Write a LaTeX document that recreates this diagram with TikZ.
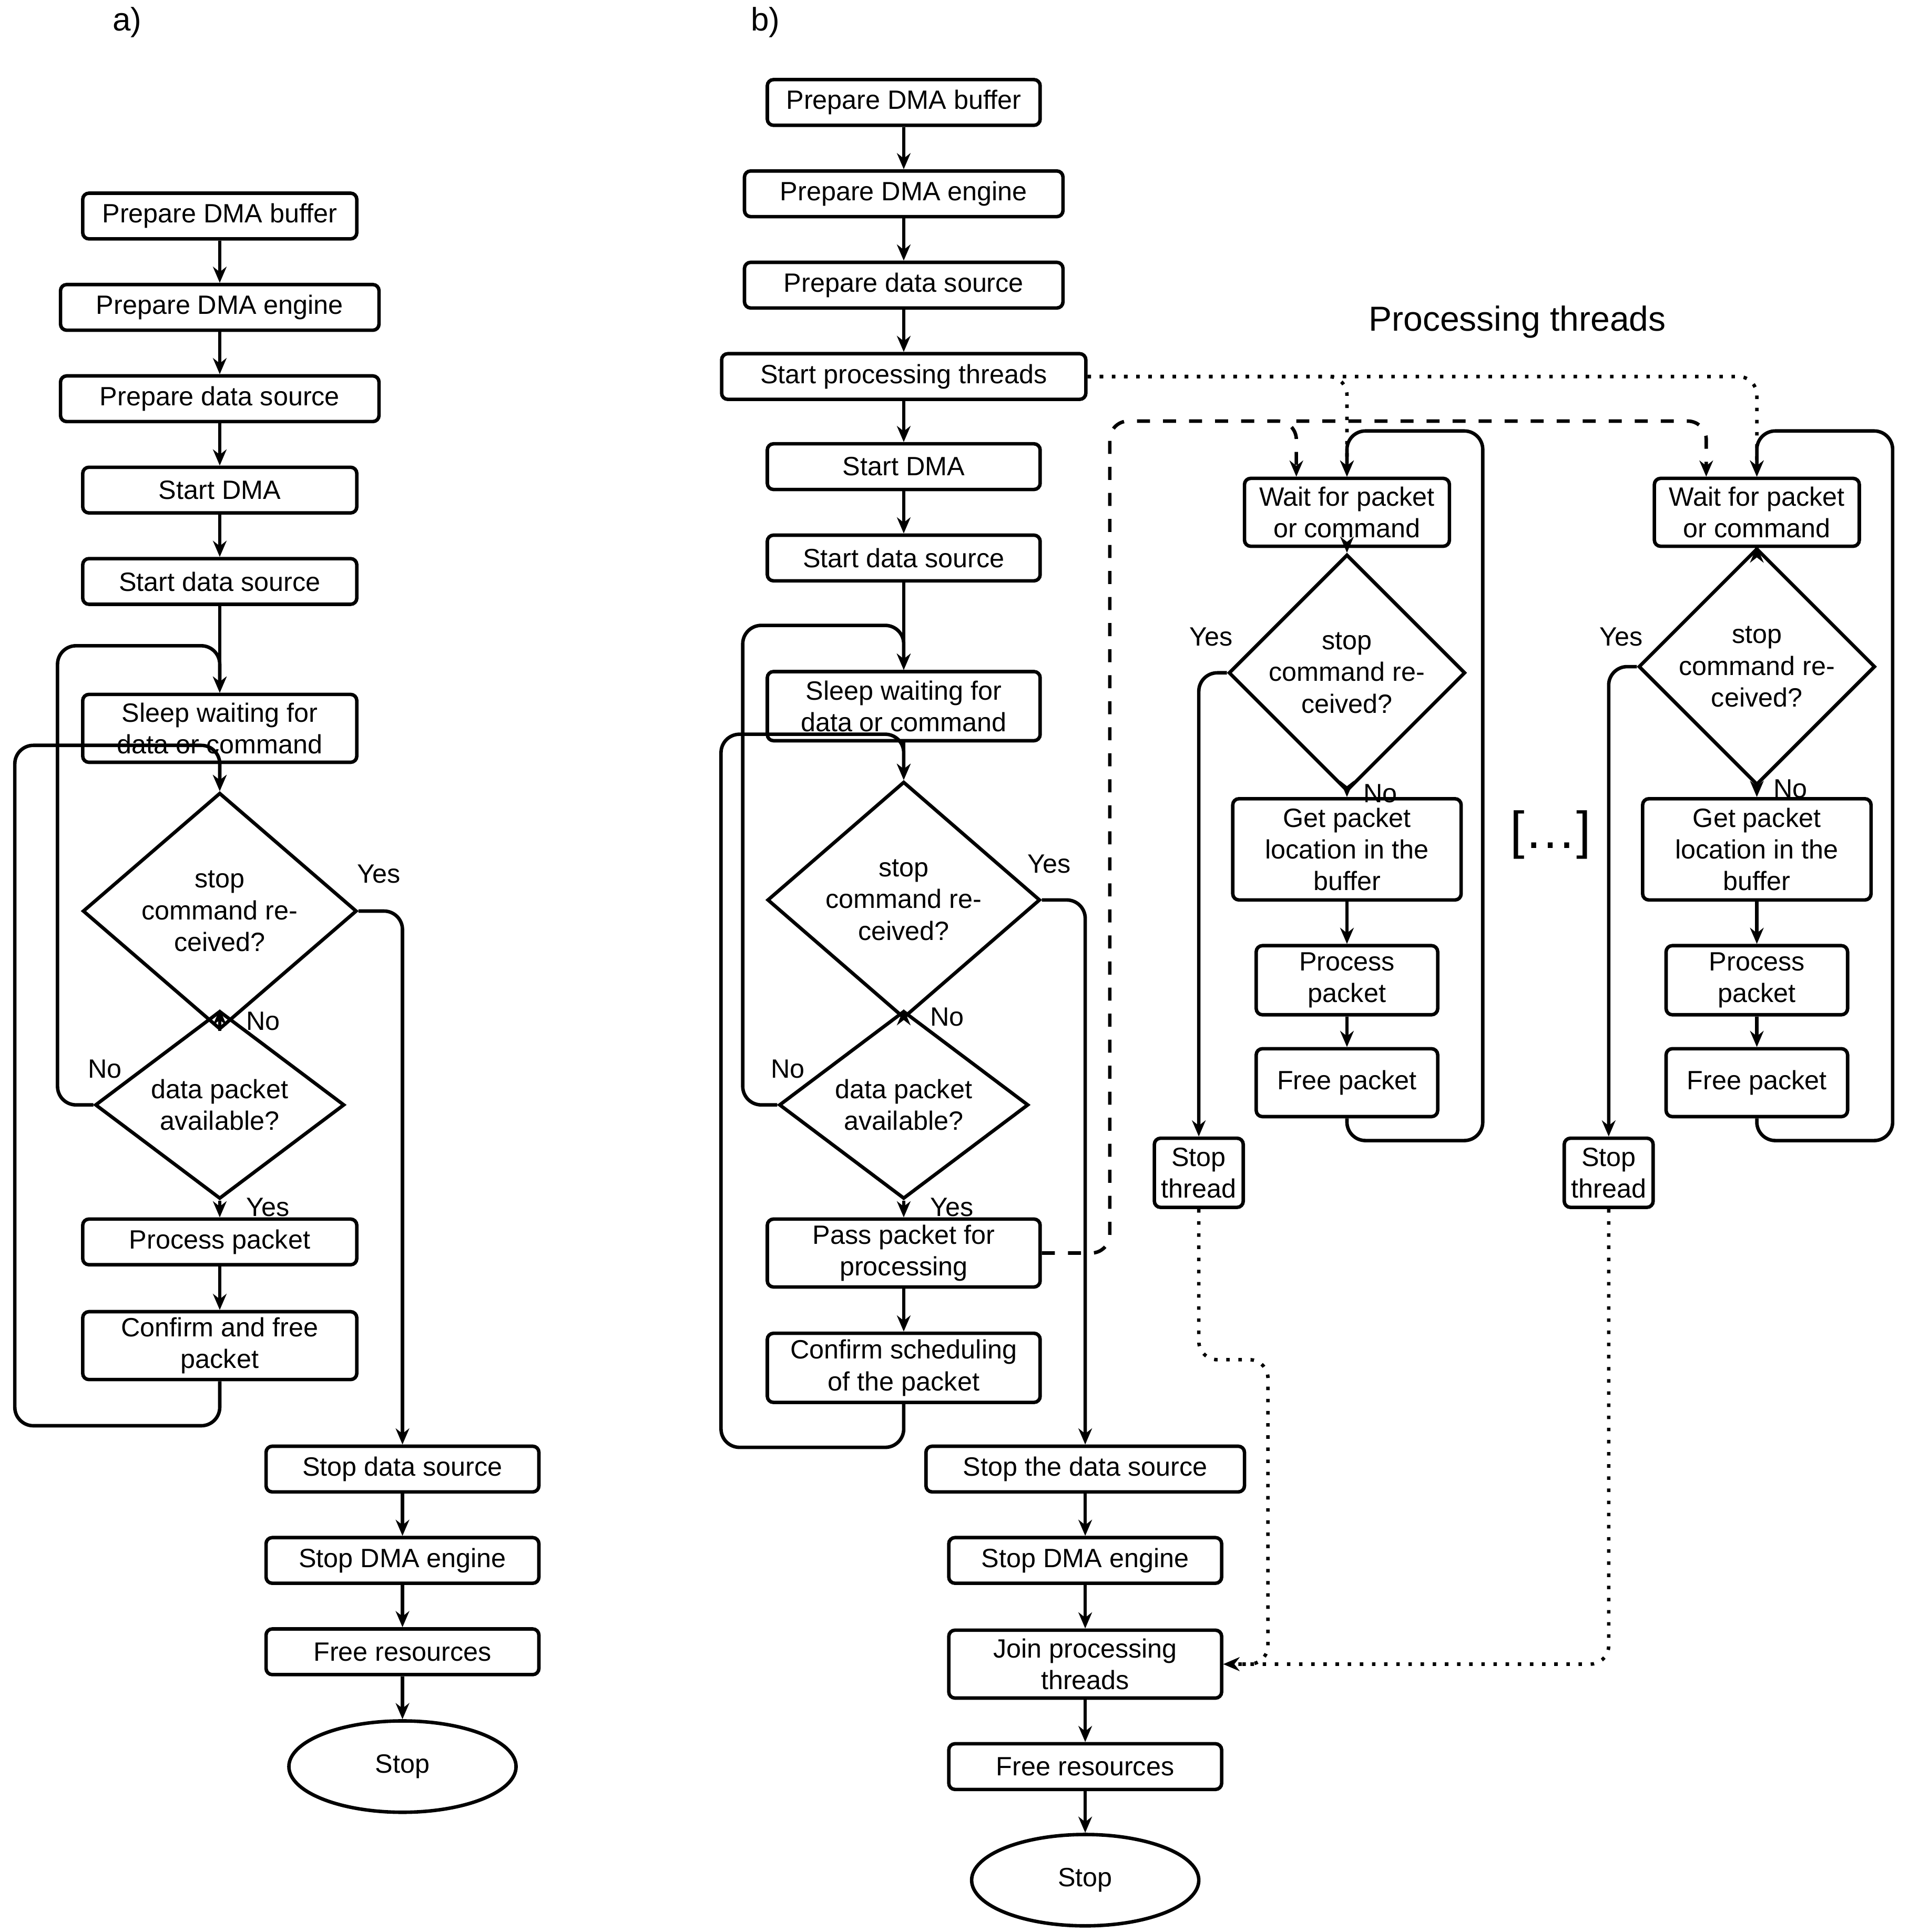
\documentclass[tikz,border=0pt]{standalone}
\usepackage{fontspec}
\setmainfont{Liberation Sans}
\usetikzlibrary{shapes.geometric,arrows.meta}
\tikzset{
  box/.style={shape=rectangle,draw=black,rounded corners=0.5mm,line width=0.8pt,align=center,inner sep=0pt,minimum height=0.37cm},
  dec/.style={shape=diamond,draw=black,line width=0.8pt,align=center,inner sep=0pt,aspect=1},
  stopnode/.style={shape=ellipse,draw=black,line width=0.8pt,minimum width=1.84cm,minimum height=0.74cm},
  line/.style={line width=0.8pt,rounded corners=1.5mm,-{Stealth[length=1.3mm,width=1.1mm]}},
  lbl/.style={inner sep=0pt}
}
\begin{document}
\begin{tikzpicture}[font=\fontsize{6.1}{7.3}\selectfont]
\useasboundingbox (0,0) rectangle (15.46,-15.65);

		\node[lbl,font=\fontsize{7.5}{9}\selectfont] (la) at (1.03,-0.18) {a)};
		\node[lbl,font=\fontsize{7.5}{9}\selectfont] (lb) at (6.20,-0.18) {b)};

		% a) single thread
		\node[box,minimum width=2.22cm] (A1) at (1.78,-1.75) {Prepare DMA buffer};
		\node[box,minimum width=2.58cm] (A2) at (1.78,-2.49) {Prepare DMA engine};
		\node[box,minimum width=2.58cm] (A3) at (1.78,-3.23) {Prepare data source};
		\node[box,minimum width=2.22cm] (A4) at (1.78,-3.97) {Start DMA};
		\node[box,minimum width=2.22cm] (A5) at (1.78,-4.71) {Start data source};
		\node[box,minimum width=2.22cm,minimum height=0.55cm] (A6) at (1.78,-5.90) {Sleep waiting for\\data or command};
		\node[dec,minimum width=2.22cm,minimum height=1.28cm] (A7) at (1.78,-7.38) {stop\\command re-\\ceived?};
		\node[dec,minimum width=2.02cm,minimum height=1.10cm] (A8) at (1.78,-8.95) {data packet\\available?};
		\node[box,minimum width=2.22cm] (A9) at (1.78,-10.06) {Process packet};
		\node[box,minimum width=2.22cm,minimum height=0.55cm] (A10) at (1.78,-10.90) {Confirm and free\\packet};
		\node[box,minimum width=2.21cm] (A11) at (3.26,-11.90) {Stop data source};
		\node[box,minimum width=2.21cm] (A12) at (3.26,-12.64) {Stop DMA engine};
		\node[box,minimum width=2.21cm] (A13) at (3.26,-13.38) {Free resources};
		\node[stopnode] (A14) at (3.26,-14.31) {Stop};

		\draw[line] (A1) -- (A2);
		\draw[line] (A2) -- (A3);
		\draw[line] (A3) -- (A4);
		\draw[line] (A4) -- (A5);
		\draw[line] (A5) -- (A6);
		\draw[line] (A6) -- (A7);
		\draw[line] (A7) -- node[lbl,right=0.2cm,pos=0.45] {No} (A8);
		\draw[line] (A8) -- node[lbl,right=0.2cm,pos=0.4] {Yes} (A9);
		\draw[line] (A9) -- (A10);
		\draw[line] (A12) -- (A13);
		\draw[line] (A11) -- (A12);
		\draw[line] (A13) -- (A14);
		\draw[line] (A7.east) -| (A11.north);
		\node[lbl] (ya) at (3.07,-7.08) {Yes};
		\draw[line] (A8.west) -- ++(-0.29,0) |- ([yshift=0.38cm]A6.north) -- (A6.north);
		\node[lbl] (na) at (0.85,-8.66) {No};
		\draw[line] (A10.south) -- ++(0,-0.36) -| ([xshift=-1.66cm,yshift=0.37cm]A7.north) -- ([yshift=0.37cm]A7.north) -- (A7.north);

		% b) main thread
		\node[box,minimum width=2.21cm] (B1) at (7.32,-0.83) {Prepare DMA buffer};
		\node[box,minimum width=2.58cm] (B2) at (7.32,-1.57) {Prepare DMA engine};
		\node[box,minimum width=2.58cm] (B3) at (7.32,-2.31) {Prepare data source};
		\node[box,minimum width=2.95cm] (B4) at (7.32,-3.05) {Start processing threads};
		\node[box,minimum width=2.21cm] (B5) at (7.32,-3.78) {Start DMA};
		\node[box,minimum width=2.21cm] (B6) at (7.32,-4.52) {Start data source};
		\node[box,minimum width=2.21cm,minimum height=0.56cm] (B7) at (7.32,-5.72) {Sleep waiting for\\data or command};
		\node[dec,minimum width=2.21cm,minimum height=1.47cm] (B8) at (7.32,-7.29) {stop\\command re-\\ceived?};
		\node[dec,minimum width=2.02cm,minimum height=1.10cm] (B9) at (7.32,-8.95) {data packet\\available?};
		\node[box,minimum width=2.21cm,minimum height=0.55cm] (B10) at (7.32,-10.15) {Pass packet for\\processing};
		\node[box,minimum width=2.21cm,minimum height=0.56cm] (B11) at (7.32,-11.08) {Confirm scheduling\\of the packet};
		\node[box,minimum width=2.58cm] (B12) at (8.79,-11.90) {Stop the data source};
		\node[box,minimum width=2.21cm] (B13) at (8.79,-12.64) {Stop DMA engine};
		\node[box,minimum width=2.21cm,minimum height=0.55cm] (B14) at (8.79,-13.48) {Join processing\\threads};
		\node[box,minimum width=2.21cm] (B15) at (8.79,-14.31) {Free resources};
		\node[stopnode] (B16) at (8.79,-15.23) {Stop};

		\draw[line] (B1) -- (B2);
		\draw[line] (B2) -- (B3);
		\draw[line] (B3) -- (B4);
		\draw[line] (B4) -- (B5);
		\draw[line] (B5) -- (B6);
		\draw[line] (B6) -- (B7);
		\draw[line] (B7) -- (B8);
		\draw[line] (B8) -- node[lbl,right=0.2cm,pos=0.3] {No} (B9);
		\draw[line] (B9) -- node[lbl,right=0.2cm,pos=0.4] {Yes} (B10);
		\draw[line] (B10) -- (B11);
		\draw[line] (B12) -- (B13);
		\draw[line] (B13) -- (B14);
		\draw[line] (B14) -- (B15);
		\draw[line] (B15) -- (B16);
		\draw[line] (B8.east) -| (B12.north);
		\node[lbl] (yb) at (8.50,-7.00) {Yes};
		\draw[line] (B9.west) -- ++(-0.28,0) |- ([yshift=0.36cm]B7.north) -- (B7.north);
		\node[lbl] (nb) at (6.38,-8.66) {No};
		\draw[line] (B11.south) -- ++(0,-0.35) -| ([xshift=-1.48cm,yshift=0.37cm]B8.north) -- ([yshift=0.37cm]B8.north) -- (B8.north);

		\node[lbl,font=\fontsize{8}{9.6}\selectfont] (pt) at (12.29,-2.61) {Processing threads};
		\node[lbl,font=\fontsize{12}{14}\selectfont] (dots) at (12.56,-6.76) {[…]};

		% processing threads
		\foreach \t/\x/\dy/\dh in {1/10.91/5.45/1.47, 2/14.23/5.40/1.37} {
		\node[box,minimum width=1.66cm,minimum height=0.55cm] (T\t a) at (\x,-4.15) {Wait for packet\\or command};
		\node[dec,minimum width=1.85cm,minimum height=\dh cm] (T\t b) at (\x,-\dy) {stop\\command re-\\ceived?};
		\node[box,minimum width=1.85cm,minimum height=0.82cm] (T\t c) at (\x,-6.88) {Get packet\\location in the\\buffer};
		\node[box,minimum width=1.47cm,minimum height=0.56cm] (T\t d) at (\x,-7.94) {Process\\packet};
		\node[box,minimum width=1.47cm,minimum height=0.55cm] (T\t e) at (\x,-8.77) {Free packet};
		\node[box,minimum width=0.72cm,minimum height=0.56cm] (T\t f) at (\x-1.20,-9.50) {Stop\\thread};
		\draw[line] (T\t a) -- (T\t b);
		\draw[line] (T\t b) -- node[lbl,right=0.12cm,pos=0.2] {No} (T\t c);
		\draw[line] (T\t c) -- (T\t d);
		\draw[line] (T\t d) -- (T\t e);
		\draw[line] (T\t b.west) -| (T\t f.north);
		\node[lbl] (y\t) at (\x-1.10,-5.16) {Yes};
		\draw[line] (T\t e.south) -- ++(0,-0.18) -- ++(1.10,0) |- ([yshift=0.37cm]T\t a.north) -- (T\t a.north);
		}

		\draw[line,dotted] (B4.east) -| (T1a.north);
		\draw[line,dotted] (B4.east) -| (T2a.north);
		\draw[line,dashed] (B10.east) -- ++(0.55,0) |- ([xshift=-0.41cm,yshift=0.45cm]T1a.north) -- ([xshift=-0.41cm]T1a.north);
		\draw[line,dashed] ([xshift=-0.41cm,yshift=0.45cm]T1a.north) -| ([xshift=-0.41cm]T2a.north);
		\draw[line,dotted] (T1f.south) -- ++(0,-1.22) -- ++(0.56,0) |- (B14.east);
		\draw[line,dotted] (T2f.south) |- (B14.east);

\end{tikzpicture}
\end{document}
